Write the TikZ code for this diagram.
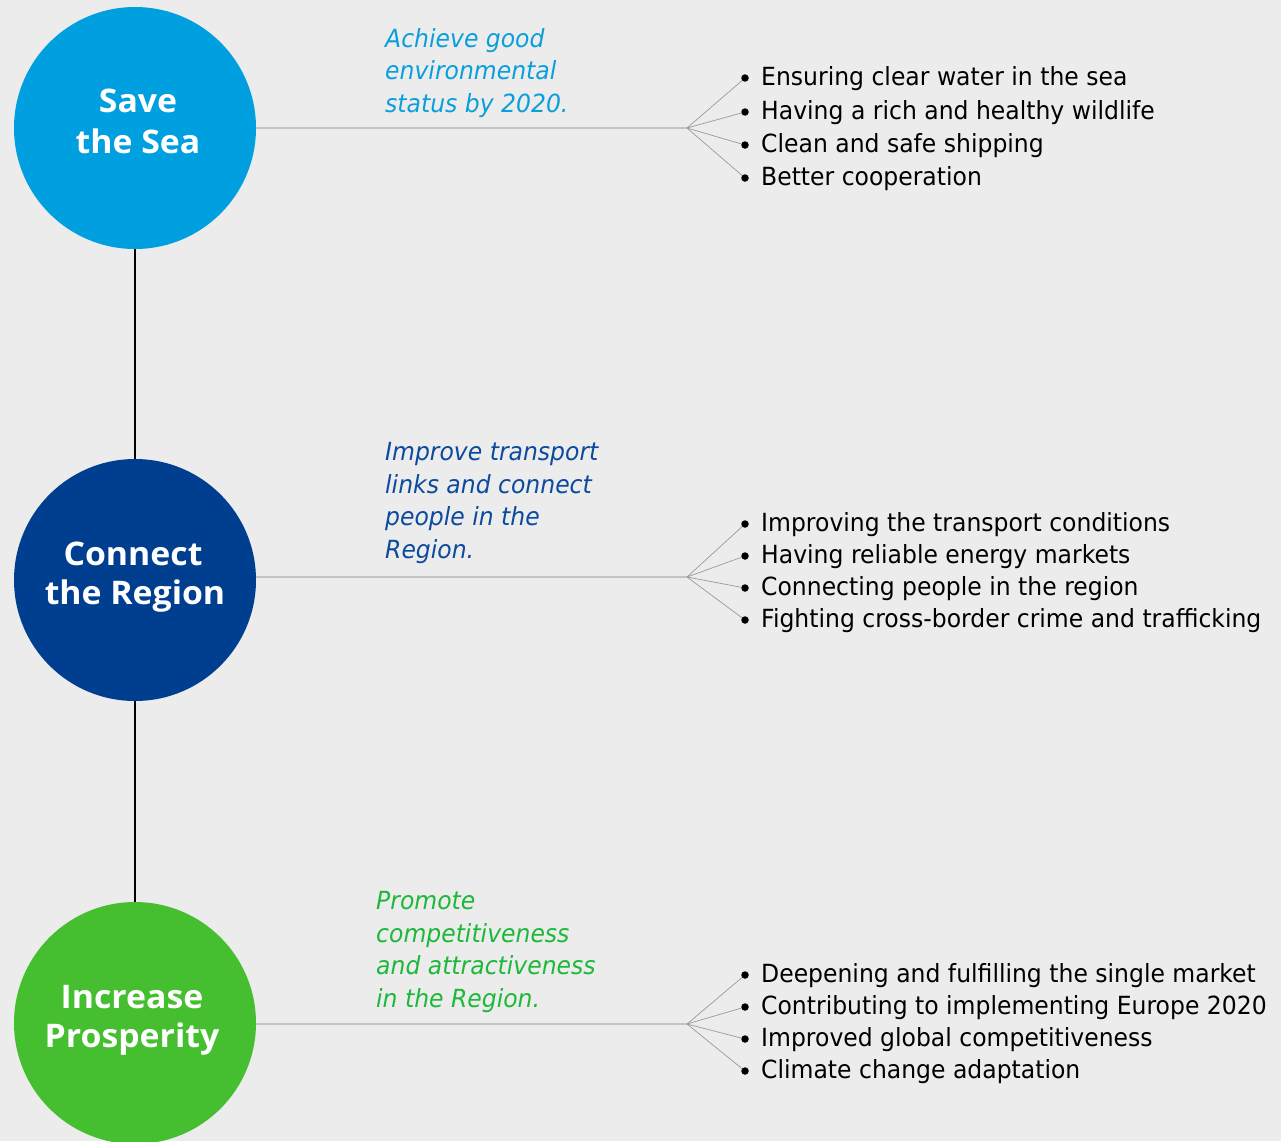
\documentclass[tikz,border=0pt]{standalone}
\usepackage{fontspec}
\setmainfont{DejaVu Sans}[FakeStretch=0.94]
\newfontfamily\aimfont{DejaVu Sans Oblique}[FakeStretch=0.94]
\newfontfamily\circfont{Open Sans}[FakeStretch=1.04]
\definecolor{bg}{HTML}{ECECEC}
\definecolor{seablue}{HTML}{009FE0}
\definecolor{regblue}{HTML}{003F8F}
\definecolor{prosgreen}{HTML}{45BF30}
\definecolor{seatext}{HTML}{0A9FDC}
\definecolor{regtext}{HTML}{0B4A9E}
\definecolor{prostext}{HTML}{1DB83A}
\definecolor{hline}{HTML}{C4C4C4}
\definecolor{fanline}{HTML}{9A9A9A}
\tikzset{
  goal/.style={circle, minimum size=242pt, inner sep=0pt},
  gtext/.style={anchor=base, text=white, inner sep=0pt,
    font=\circfont\bfseries\fontsize{32.5}{40}\selectfont},
  aim/.style={anchor=base west, inner sep=0pt, align=left,
    font=\aimfont\fontsize{25}{32.5}\selectfont},
  dotpt/.style={circle, fill=black, inner sep=0pt, minimum size=7.5pt},
  item/.style={anchor=west, inner sep=0pt, font=\fontsize{25}{30}\selectfont, text=black},
  hl/.style={draw=hline, line width=1.2pt},
  fan/.style={draw=fanline, line width=0.7pt},
  vl/.style={draw=black, line width=2pt}
}
\begin{document}
\begin{tikzpicture}[x=1pt,y=-1pt]
\useasboundingbox (0,0) rectangle (1281,1141);
\clip (0,0) rectangle (1281,1141);
\fill[bg] (0,0) rectangle (1281,1141);

% circles
\node[goal, fill=seablue] (c1) at (135,128) {};
\node[goal, fill=regblue] (c2) at (135,580) {};
\node[goal, fill=prosgreen] (c3) at (135,1023) {};
\node[gtext] (t1a) at (138,112) {Save};
\node[gtext] (t1b) at (138,153) {the Sea};
\node[gtext] (t2a) at (133,565) {Connect};
\node[gtext] (t2b) at (135,604) {the Region};
\node[gtext] (t3a) at (132,1008) {Increase};
\node[gtext] (t3b) at (132,1047) {Prosperity};

\draw[vl] (c1.south) -- (c2.north);
\draw[vl] (c2.south) -- (c3.north);

% fan points
\coordinate (f1) at (687,128);
\coordinate (f2) at (687,577);
\coordinate (f3) at (687,1024);
\draw[hl] (c1.east) -- (f1);
\draw[hl] (c2.east |- f2) -- (f2);
\draw[hl] (c3.east |- f3) -- (f3);

% aims (anchor = baseline of last line)
\node[aim, text=seatext] (a1) at (385,112) {Achieve good\\environmental\\status by 2020.};
\node[aim, text=regtext] (a2) at (385,558) {Improve transport\\links and connect\\people in the\\Region.};
\node[aim, text=prostext] (a3) at (376,1007) {Promote\\competitiveness\\and attractiveness\\in the Region.};

% row 1 items
\foreach \i/\y/\t in {1/78/Ensuring clear water in the sea,
                     2/112/Having a rich and healthy wildlife,
                     3/145/Clean and safe shipping,
                     4/178/Better cooperation}{
  \node[dotpt] (d1\i) at (745,\y) {};
  \node[item] (i1\i) at (761,\y+1) {\t};
  \draw[fan] (f1) -- (d1\i);
}
% row 2 items
\foreach \i/\y/\t in {1/524/Improving the transport conditions,
                     2/556/Having reliable energy markets,
                     3/588/Connecting people in the region,
                     4/620/Fighting cross-border crime and trafficking}{
  \node[dotpt] (d2\i) at (745,\y) {};
  \node[item] (i2\i) at (761,\y+1) {\t};
  \draw[fan] (f2) -- (d2\i);
}
% row 3 items
\foreach \i/\y/\t in {1/975/Deepening and fulfilling the single market,
                     2/1007/Contributing to implementing Europe 2020,
                     3/1039/Improved global competitiveness,
                     4/1071/Climate change adaptation}{
  \node[dotpt] (d3\i) at (745,\y) {};
  \node[item] (i3\i) at (761,\y+1) {\t};
  \draw[fan] (f3) -- (d3\i);
}
\end{tikzpicture}
\end{document}
